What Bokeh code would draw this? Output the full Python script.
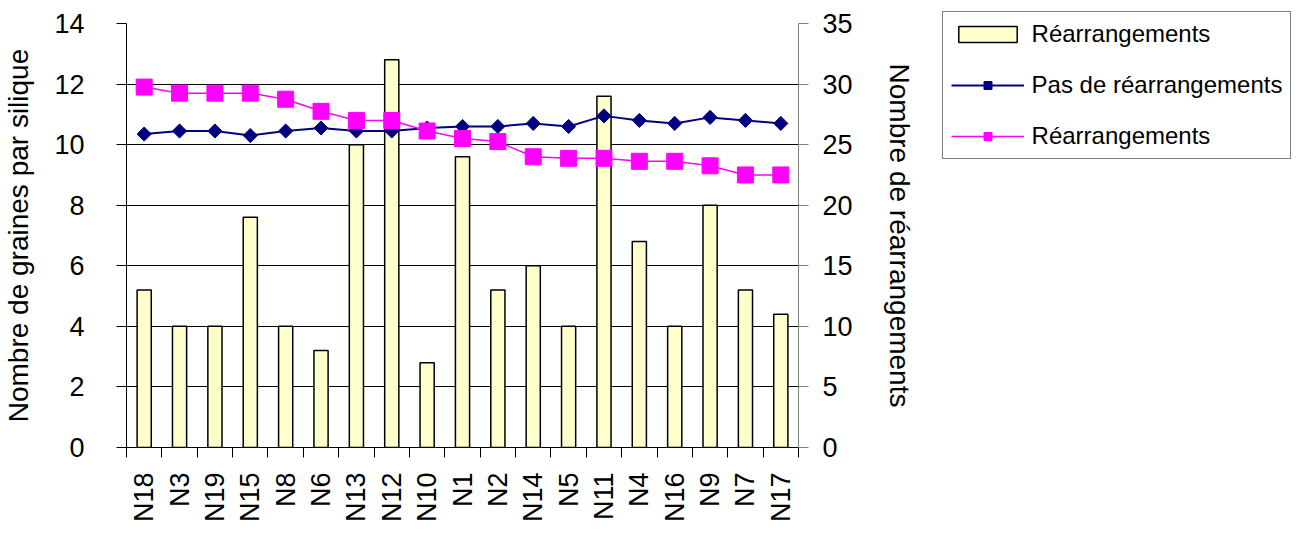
import math
from bokeh.plotting import figure
from bokeh.models import (Range1d, LinearAxis, FixedTicker, Legend,
                          LegendItem, ColumnDataSource)
from bokeh.embed import file_html
from bokeh.resources import INLINE

categories = ["N18", "N3", "N19", "N15", "N8", "N6", "N13", "N12", "N10", "N1",
              "N2", "N14", "N5", "N11", "N4", "N16", "N9", "N7", "N17"]
rearr_count = [13, 10, 10, 19, 10, 8, 25, 32, 7, 24, 13, 15, 10, 29, 17, 10, 20, 13, 11]
seeds_no_rearr = [10.35, 10.45, 10.45, 10.3, 10.45, 10.55, 10.45, 10.45, 10.55, 10.6,
                  10.6, 10.7, 10.6, 10.95, 10.8, 10.7, 10.9, 10.8, 10.7]
seeds_rearr = [11.9, 11.7, 11.7, 11.7, 11.5, 11.1, 10.8, 10.8, 10.45, 10.2,
               10.1, 9.6, 9.55, 9.55, 9.45, 9.45, 9.3, 9.0, 9.0]
left_ticks = [0, 2, 4, 6, 8, 10, 12, 14]
right_ticks = [0, 5, 10, 15, 20, 25, 30, 35]

FONT = "Liberation Sans"

n = len(categories)
centers = [i + 0.5 for i in range(n)]
src = ColumnDataSource(dict(x=centers, cat=categories, cnt=rearr_count,
                            s0=seeds_no_rearr, s1=seeds_rearr))

p = figure(x_range=Range1d(0, n), y_range=Range1d(0, 14),
           frame_width=672, frame_height=424,
           min_border_left=118, min_border_right=507, min_border_top=23, min_border_bottom=78,
           output_backend="svg", toolbar_location=None, x_axis_location=None,
           y_axis_location=None)
p.outline_line_color = None
p.background_fill_color = "white"
p.border_fill_color = "white"
p.extra_y_ranges = {"right": Range1d(0, 35)}

# left axis
yl = LinearAxis(ticker=FixedTicker(ticks=left_ticks), axis_label="Nombre de graines par silique")
yl.axis_line_color = "black"
yl.major_tick_line_color = "black"
yl.major_tick_in = 0
yl.major_tick_out = 10
yl.minor_tick_line_color = None
yl.major_label_standoff = 32
yl.axis_label_standoff = 17
yl.major_label_text_font = FONT
yl.major_label_text_font_size = "27px"
yl.major_label_text_color = "black"
yl.axis_label_text_font = FONT
yl.axis_label_text_font_size = "28px"
yl.axis_label_text_font_style = "normal"
yl.axis_label_text_color = "black"
p.add_layout(yl, "left")

# right axis
yr = LinearAxis(y_range_name="right", ticker=FixedTicker(ticks=right_ticks),
                axis_label="Nombre de réarrangements")
yr.axis_line_color = "#808080"
yr.major_tick_line_color = "#808080"
yr.major_tick_in = 0
yr.major_tick_out = 10
yr.minor_tick_line_color = None
yr.major_label_standoff = 14
yr.axis_label_standoff = 28
yr.major_label_text_font = FONT
yr.major_label_text_font_size = "27px"
yr.major_label_text_color = "black"
yr.axis_label_text_font = FONT
yr.axis_label_text_font_size = "28px"
yr.axis_label_text_font_style = "normal"
yr.axis_label_text_color = "black"
p.add_layout(yr, "right")

# bottom tick axis (category boundaries)
xt = LinearAxis(ticker=FixedTicker(ticks=list(range(n + 1))))
xt.axis_line_color = "black"
xt.major_tick_line_color = "black"
xt.major_tick_in = 0
xt.major_tick_out = 10
xt.minor_tick_line_color = None
xt.major_label_text_font_size = "1px"
xt.major_label_text_color = None
xt.major_label_standoff = 0
p.add_layout(xt, "below")

# bottom category labels
xc = LinearAxis(ticker=FixedTicker(ticks=centers),
                major_label_overrides={c: lab for c, lab in zip(centers, categories)})
xc.axis_line_color = None
xc.major_tick_line_color = None
xc.major_tick_in = 0
xc.major_tick_out = 0
xc.minor_tick_line_color = None
xc.major_label_orientation = math.pi / 2
xc.major_label_standoff = 15
xc.major_label_text_font = FONT
xc.major_label_text_font_size = "27px"
xc.major_label_text_color = "black"
p.add_layout(xc, "below")

p.ygrid.ticker = FixedTicker(ticks=left_ticks)
p.ygrid.grid_line_color = "black"
p.ygrid.grid_line_width = 1
p.xgrid.grid_line_color = None

bars = p.vbar(x="x", top="cnt", width=0.4, source=src, y_range_name="right",
              fill_color="#FFFFCC", line_color="black", line_width=1.5)

l0 = p.line(x="x", y="s0", source=src, line_color="#000080", line_width=2)
m0 = p.scatter(x="x", y="s0", source=src, marker="square", angle=math.pi / 4, size=10,
               fill_color="#000080", line_color="#000080")
l1 = p.line(x="x", y="s1", source=src, line_color="#FF00FF", line_width=1.5)
m1 = p.scatter(x="x", y="s1", source=src, marker="square", size=16,
               fill_color="#FF00FF", line_color="#FF00FF")

legend = Legend(items=[
    LegendItem(label="Réarrangements", renderers=[bars]),
    LegendItem(label="Pas de réarrangements", renderers=[l0, m0]),
    LegendItem(label="Réarrangements", renderers=[l1, m1]),
], location=(-189, 288))
legend.label_text_font = FONT
legend.label_text_font_size = "24px"
legend.label_text_color = "black"
legend.glyph_width = 73
legend.glyph_height = 20
legend.label_height = 20
legend.label_standoff = 8
legend.spacing = 23
legend.padding = 8
legend.margin = 0
legend.border_line_color = "black"
legend.border_line_width = 1
legend.background_fill_color = "white"
legend.background_fill_alpha = 1
p.add_layout(legend, "right")

open("out.html", "w").write(file_html(p, INLINE))
